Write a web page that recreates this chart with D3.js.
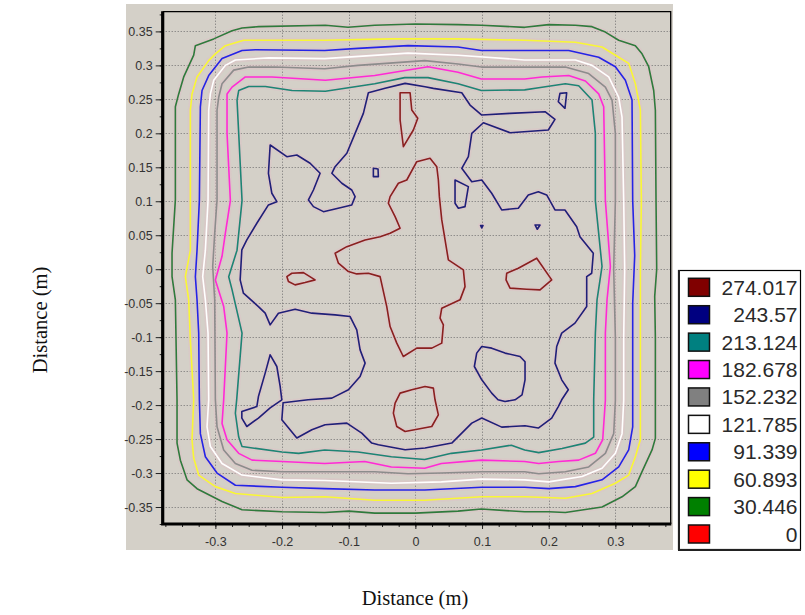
<!DOCTYPE html>
<html>
<head>
<meta charset="utf-8">
<script src="https://cdn.jsdelivr.net/npm/d3@7"></script>
<style>
  body { margin: 0; background: #ffffff; }
  svg { display: block; }
</style>
</head>
<body>
<svg id="chart" width="805" height="615"></svg>
<script>
// ---- Axis ticks -----------------------------------------------------------
const xTicks = [-0.3, -0.2, -0.1, 0, 0.1, 0.2, 0.3];
const xTickLabels = ["-0.3", "-0.2", "-0.1", "0", "0.1", "0.2", "0.3"];
const yTicks = [0.35, 0.3, 0.25, 0.2, 0.15, 0.1, 0.05, 0, -0.05, -0.1, -0.15, -0.2, -0.25, -0.3, -0.35];
const yTickLabels = ["0.35", "0.3", "0.25", "0.2", "0.15", "0.1", "0.05", "0", "-0.05", "-0.1", "-0.15", "-0.2", "-0.25", "-0.3", "-0.35"];
const xDomain = [-0.379, 0.383];
const yDomain = [-0.375, 0.379];

// ---- Contour levels (legend order) ----------------------------------------
const levelValues = [274.017, 243.57, 213.124, 182.678, 152.232, 121.785, 91.339, 60.893, 30.446, 0];
const levelLabels = ["274.017", "243.57", "213.124", "182.678", "152.232", "121.785", "91.339", "60.893", "30.446", "0"];
const levelColors = ["#800000", "#000080", "#008080", "#ff00ff", "#808080", "#ffffff", "#0000ff", "#ffff00", "#008000", "#ff0000"];
// stroke colours used for the lines inside the plot
const lineColors = ["#8a1f1f", "#1f1f78", "#1d8474", "#ff2ad6", "#8c8c8c", "#ffffff", "#2424e6", "#f8f834", "#2f7a3c", "#ff0000"];

// ---- Contour lines, [x (m), y (m)] ---------------------------------------
const contour30446 = [[
  [-0.26,0.355],[-0.235,0.357],[-0.135,0.359],[-0.101,0.356],[-0.061,0.359],[0,0.361],[0.064,0.36],[0.099,0.359],
  [0.164,0.356],[0.2,0.36],[0.24,0.359],[0.265,0.357],[0.285,0.349],[0.305,0.337],[0.33,0.329],[0.34,0.317],
  [0.35,0.298],[0.3575,0.263],[0.36,0.234],[0.361,0.1],[0.362,0.0],[0.359,-0.04],[0.36,-0.1],[0.36,-0.193],
  [0.36,-0.249],[0.355,-0.266],[0.34,-0.298],[0.33,-0.32],[0.31,-0.335],[0.28,-0.35],[0.26,-0.353],[0.225,-0.358],
  [0.2,-0.357],[0.164,-0.357],[0.099,-0.353],[0.064,-0.356],[0,-0.359],[-0.061,-0.359],[-0.1,-0.356],[-0.136,-0.358],
  [-0.2,-0.357],[-0.26,-0.354],[-0.29,-0.342],[-0.3275,-0.323],[-0.3425,-0.31],[-0.3525,-0.281],[-0.3575,-0.256],
  [-0.3575,-0.192],[-0.36,-0.045],[-0.365,-0.011],[-0.365,0.0235],[-0.36,0.102],[-0.36,0.239],[-0.355,0.258],
  [-0.3475,0.283],[-0.3325,0.315],[-0.33,0.329],[-0.3025,0.339],[-0.275,0.351]
]];

const contour60893 = [[
  [-0.2575,0.337],[-0.136,0.337],[-0.036,0.339],[0.064,0.339],[0.164,0.337],[0.24,0.334],[0.28,0.327],[0.305,0.312],
  [0.32,0.303],[0.33,0.273],[0.3375,0.234],[0.339,0.1],[0.3375,0.0],[0.3375,-0.1],[0.3375,-0.193],[0.3375,-0.251],
  [0.33,-0.276],[0.32,-0.303],[0.3,-0.315],[0.265,-0.33],[0.225,-0.337],[0.165,-0.335],[0.099,-0.335],[0.014,-0.34],
  [-0.061,-0.34],[-0.136,-0.335],[-0.2,-0.336],[-0.27,-0.33],[-0.3,-0.32],[-0.325,-0.303],[-0.3325,-0.278],
  [-0.335,-0.251],[-0.3325,-0.192],[-0.3375,-0.104],[-0.34,-0.045],[-0.345,-0.011],[-0.3375,0.028],[-0.3375,0.101],
  [-0.3375,0.234],[-0.335,0.258],[-0.3275,0.283],[-0.31,0.307],[-0.3,0.317],[-0.285,0.329]
]];

const contour91339 = [[
  [-0.26,0.322],[-0.24,0.323],[-0.136,0.322],[-0.086,0.325],[-0.011,0.329],[0.064,0.327],[0.099,0.322],[0.164,0.322],
  [0.23,0.322],[0.275,0.312],[0.3,0.298],[0.315,0.278],[0.325,0.249],[0.326,0.101],[0.329,0.02],[0.326,-0.05],
  [0.326,-0.193],[0.326,-0.232],[0.32,-0.266],[0.305,-0.291],[0.28,-0.31],[0.24,-0.32],[0.2,-0.323],[0.164,-0.321],
  [0.099,-0.321],[0.014,-0.325],[-0.061,-0.325],[-0.136,-0.323],[-0.2,-0.321],[-0.27,-0.318],[-0.2975,-0.3],
  [-0.315,-0.276],[-0.3225,-0.242],[-0.324,-0.192],[-0.325,-0.094],[-0.3275,-0.045],[-0.33,-0.011],[-0.3275,0.028],
  [-0.324,0.101],[-0.3225,0.239],[-0.32,0.263],[-0.31,0.285],[-0.29,0.31]
]];

const contour121785 = [[
  [-0.27,0.308],[-0.22,0.311],[-0.136,0.31],[-0.011,0.318],[0.064,0.315],[0.164,0.308],[0.24,0.308],[0.265,0.3],
  [0.29,0.283],[0.305,0.253],[0.31,0.224],[0.3125,0.101],[0.314,0.0],[0.3125,-0.1],[0.3125,-0.193],[0.31,-0.242],
  [0.3,-0.271],[0.28,-0.293],[0.25,-0.305],[0.2,-0.313],[0.164,-0.31],[0.099,-0.309],[0.039,-0.313],[-0.036,-0.315],
  [-0.136,-0.311],[-0.2,-0.31],[-0.26,-0.303],[-0.29,-0.286],[-0.3075,-0.261],[-0.3125,-0.232],[-0.31,-0.192],
  [-0.311,-0.094],[-0.315,-0.045],[-0.319,-0.011],[-0.315,0.028],[-0.311,0.101],[-0.31,0.234],[-0.3075,0.258],
  [-0.3025,0.278],[-0.285,0.3]
]];

const contour152232 = [[
  [-0.25,0.2975],[-0.21,0.2975],[-0.136,0.295],[-0.086,0.3],[0.014,0.307],[0.064,0.302],[0.099,0.2975],[0.164,0.2975],
  [0.225,0.2975],[0.26,0.288],[0.285,0.268],[0.295,0.249],[0.3,0.2],[0.3,0.101],[0.2975,0.0],[0.3,-0.1],[0.3,-0.193],
  [0.2975,-0.242],[0.285,-0.271],[0.26,-0.291],[0.225,-0.298],[0.185,-0.301],[0.164,-0.298],[0.099,-0.298],
  [0.039,-0.3],[-0.011,-0.301],[-0.061,-0.298],[-0.136,-0.298],[-0.2,-0.298],[-0.245,-0.296],[-0.27,-0.286],
  [-0.2875,-0.266],[-0.2975,-0.232],[-0.3,-0.192],[-0.301,-0.045],[-0.304,0.004],[-0.301,0.053],[-0.2975,0.102],
  [-0.2975,0.234],[-0.295,0.253],[-0.29,0.273],[-0.2725,0.293]
]];

const contour182678 = [[
  [-0.255,0.283],[-0.215,0.283],[-0.135,0.278],[-0.061,0.285],[0.019,0.298],[0.064,0.29],[0.099,0.28],[0.164,0.28],
  [0.19,0.283],[0.23,0.285],[0.255,0.277],[0.275,0.258],[0.2825,0.239],[0.285,0.101],[0.2925,0.004],[0.2875,-0.045],
  [0.285,-0.094],[0.285,-0.193],[0.281,-0.251],[0.27,-0.271],[0.245,-0.281],[0.215,-0.283],[0.185,-0.286],
  [0.164,-0.283],[0.099,-0.281],[0.039,-0.286],[0.014,-0.293],[-0.036,-0.291],[-0.076,-0.283],[-0.136,-0.286],
  [-0.2,-0.283],[-0.245,-0.281],[-0.265,-0.271],[-0.2825,-0.251],[-0.29,-0.227],[-0.2875,-0.192],[-0.2825,-0.094],
  [-0.2875,-0.055],[-0.3,-0.016],[-0.29,0.019],[-0.285,0.053],[-0.2775,0.101],[-0.2825,0.2],[-0.2825,0.258],
  [-0.275,0.268]
]];

const contour213124 = [[
  [-0.25,0.269],[-0.225,0.269],[-0.185,0.263],[-0.135,0.262],[-0.061,0.273],[-0.016,0.282],[0.019,0.282],[0.064,0.273],
  [0.099,0.263],[0.164,0.264],[0.185,0.267],[0.225,0.273],[0.245,0.27],[0.265,0.249],[0.27,0.2],[0.27,0.101],
  [0.28,0.004],[0.2725,-0.045],[0.27,-0.094],[0.2675,-0.192],[0.2675,-0.247],[0.255,-0.256],[0.22,-0.264],
  [0.185,-0.27],[0.164,-0.266],[0.144,-0.259],[0.099,-0.266],[0.054,-0.271],[0.014,-0.28],[-0.036,-0.276],
  [-0.086,-0.269],[-0.136,-0.266],[-0.175,-0.271],[-0.2,-0.269],[-0.26,-0.261],[-0.265,-0.247],[-0.27,-0.212],
  [-0.268,-0.192],[-0.26,-0.094],[-0.275,-0.03],[-0.28,-0.011],[-0.2675,0.028],[-0.26,0.101],[-0.265,0.2],
  [-0.2675,0.249],[-0.265,0.263]
]];

const contour243570 = [
  [
    [-0.0705,0.2597],[-0.0454,0.2662],[-0.0154,0.2735],[0.0145,0.2685],[0.027,0.2662],[0.0696,0.2597],[0.082,0.2416],
    [0.0996,0.2269],[0.142,0.2294],[0.1945,0.2318],[0.2094,0.2206],[0.1994,0.2049],[0.142,0.2009],[0.102,0.2156],
    [0.0846,0.2],[0.0795,0.1656],[0.0696,0.1485],[0.0846,0.1288],[0.0996,0.1313],[0.1145,0.1118],[0.1295,0.0872],
    [0.1544,0.0897],[0.1694,0.1093],[0.1844,0.1141],[0.197,0.1093],[0.2094,0.0872],[0.2244,0.0872],[0.242,0.0626],
    [0.2469,0.0479],[0.2669,0.0235],[0.2645,-0.0059],[0.257,-0.0109],[0.257,-0.055],[0.2394,-0.0794],[0.2195,-0.0941],
    [0.212,-0.1138],[0.2094,-0.1382],[0.2195,-0.1628],[0.2294,-0.1775],[0.2195,-0.1922],[0.2144,-0.2021],
    [0.2045,-0.2191],[0.1844,-0.2338],[0.1645,-0.2304],[0.1445,-0.2315],[0.1295,-0.2324],[0.0996,-0.2191],
    [0.0846,-0.2265],[0.0546,-0.2559],[0.0145,-0.2632],[-0.0154,-0.2657],[-0.0555,-0.2584],[-0.0654,-0.2559],
    [-0.0804,-0.2412],[-0.1028,-0.2265],[-0.1354,-0.229],[-0.1553,-0.2363],[-0.1778,-0.2485],[-0.2003,-0.2216],
    [-0.1984,-0.1966],[-0.1609,-0.1922],[-0.1253,-0.1897],[-0.1004,-0.1775],[-0.0829,-0.1579],[-0.0754,-0.1382],
    [-0.0829,-0.1187],[-0.0879,-0.0893],[-0.0979,-0.0697],[-0.1204,-0.0672],[-0.1553,-0.0647],[-0.1804,-0.0588],
    [-0.2054,-0.0647],[-0.2178,-0.0819],[-0.2253,-0.0647],[-0.2354,-0.055],[-0.2579,-0.0353],[-0.2628,-0.0157],
    [-0.2603,0.0284],[-0.2528,0.0431],[-0.2378,0.0676],[-0.2204,0.0946],[-0.2078,0.0994],[-0.2153,0.1118],
    [-0.2204,0.1412],[-0.2178,0.1828],[-0.1928,0.1656],[-0.1778,0.1681],[-0.1579,0.1559],[-0.1429,0.1412],
    [-0.1529,0.1166],[-0.1604,0.1019],[-0.1529,0.0921],[-0.1379,0.0847],[-0.0954,0.0946],[-0.0904,0.1068],
    [-0.0954,0.1166],[-0.1103,0.1265],[-0.1253,0.1412],[-0.1204,0.1509],[-0.1028,0.1706],[-0.0904,0.2],[-0.078,0.2294]
  ],
  [
    [-0.2003,-0.1922],[-0.2028,-0.1726],[-0.2078,-0.1432],[-0.2178,-0.126],[-0.2253,-0.1529],[-0.2354,-0.1874],
    [-0.2378,-0.2021],[-0.2603,-0.2094],[-0.2603,-0.2191],[-0.2528,-0.2315],[-0.2354,-0.2191],[-0.2178,-0.2040]
  ],
  [[0.0996,-0.1138],[0.1145,-0.1162],[0.1345,-0.1235],[0.157,-0.1285],[0.1645,-0.1363],[0.1645,-0.1628],[0.16,-0.1849],
   [0.1495,-0.1922],[0.1345,-0.1947],[0.124,-0.1922],[0.1145,-0.1824],[0.0996,-0.1628],[0.0885,-0.1432],[0.092,-0.1235]],
  [[0.0595,0.1313],[0.0795,0.1215],[0.0745,0.0921],[0.0645,0.0897],[0.0595,0.0971]],
  [[0.2169,0.2588],[0.227,0.2597],[0.2244,0.2368],[0.2144,0.2465]],
  [[-0.063,0.1485],[-0.056,0.1475],[-0.0555,0.1362],[-0.063,0.1362]],
  [[0.1795,0.0651],[0.187,0.0651],[0.1829,0.0588]],
  [[0.0978,0.0644],[0.1015,0.0644],[0.0996,0.0607]]
];

const contour274017 = [
  [[-0.0229,0.2597],[-0.0079,0.2597],[-0.0054,0.2343],[0.0036,0.2221],[-0.003,0.2049],[-0.018,0.1803],[-0.0229,0.2196]],
  [
    [0.0021,0.1582],[0.022,0.1632],[0.0321,0.1509],[0.0345,0.1313],[0.036,0.1068],[0.0396,0.0725],[0.0495,0.0137],
    [0.072,-0.001],[0.0745,-0.0256],[0.067,-0.0451],[0.0396,-0.0574],[0.037,-0.0721],[0.042,-0.0819],[0.0396,-0.1088],
    [0.0246,-0.1162],[0.0021,-0.1162],[-0.0181,-0.1285],[-0.0279,-0.1088],[-0.0379,-0.0844],[-0.0429,-0.055],
    [-0.0529,-0.0109],[-0.0705,-0.0059],[-0.0879,-0.0069],[-0.1004,-0.0035],[-0.1154,0.0088],[-0.1204,0.0235],
    [-0.1028,0.0332],[-0.0754,0.0431],[-0.0529,0.0479],[-0.0379,0.0529],[-0.0229,0.0603],[-0.0304,0.0774],
    [-0.0405,0.0971],[-0.0379,0.1068],[-0.0255,0.1265],[-0.0129,0.1313]
  ],
  [[-0.1928,-0.0109],[-0.1853,-0.0059],[-0.1679,-0.005],[-0.1504,-0.0157],[-0.1654,-0.0197],[-0.1804,-0.0231],[-0.1904,-0.0182]],
  [[0.137,-0.0059],[0.1544,0.0015],[0.182,0.0162],[0.2045,-0.0157],[0.187,-0.0304],[0.167,-0.0294],[0.142,-0.0279],[0.136,-0.0157]],
  [[-0.0229,-0.1824],[-0.0054,-0.1775],[0.0145,-0.1726],[0.027,-0.175],[0.0295,-0.1922],[0.0345,-0.2143],[0.0246,-0.2315],
   [-0.0154,-0.2388],[-0.0279,-0.2315],[-0.033,-0.2118],[-0.0304,-0.1971]]
];

// Outermost first so inner lines sit on top
const contourSets = [
  { level: 30.446,  rings: contour30446 },
  { level: 60.893,  rings: contour60893 },
  { level: 91.339,  rings: contour91339 },
  { level: 121.785, rings: contour121785 },
  { level: 152.232, rings: contour152232 },
  { level: 182.678, rings: contour182678 },
  { level: 213.124, rings: contour213124 },
  { level: 243.57,  rings: contour243570 },
  { level: 274.017, rings: contour274017 }
];

// ---- Drawing ----------------------------------------------------------------
const svg = d3.select("#chart");
const plot = { left: 162.7, right: 670.7, top: 11.7, bottom: 524 };

const x = d3.scaleLinear().domain(xDomain).range([plot.left, plot.right]);
const y = d3.scaleLinear().domain(yDomain).range([plot.bottom, plot.top]);
const colorOf = d3.scaleOrdinal().domain(levelValues).range(levelColors);
const strokeOf = d3.scaleOrdinal().domain(levelValues).range(lineColors);

// panel background
svg.append("rect")
  .attr("x", 126).attr("y", 4).attr("width", 547).attr("height", 546)
  .attr("fill", "#d4d0c8");

svg.append("clipPath").attr("id", "plotClip")
  .append("rect")
  .attr("x", plot.left).attr("y", plot.top)
  .attr("width", plot.right - plot.left).attr("height", plot.bottom - plot.top);

// dotted grid
const grid = svg.append("g").attr("stroke", "#6f6f6f").attr("stroke-width", 1)
  .attr("stroke-dasharray", "1,2");
grid.selectAll("line.vx").data(xTicks).join("line")
  .attr("x1", d => Math.round(x(d)) + 0.5).attr("x2", d => Math.round(x(d)) + 0.5)
  .attr("y1", plot.top).attr("y2", plot.bottom);
grid.selectAll("line.hy").data(yTicks).join("line")
  .attr("y1", d => Math.round(y(d)) + 0.5).attr("y2", d => Math.round(y(d)) + 0.5)
  .attr("x1", plot.left).attr("x2", plot.right);

// contour lines
const line = d3.line()
  .x(d => x(d[0])).y(d => y(d[1]))
  .curve(d3.curveLinearClosed);

const cg = svg.append("g").attr("clip-path", "url(#plotClip)").attr("fill", "none")
  .attr("stroke-linejoin", "round");

contourSets.forEach(set => {
  cg.selectAll(null).data(set.rings).join("path")
    .attr("d", line)
    .attr("stroke", "#dcc3c6")
    .attr("stroke-opacity", 0.55)
    .attr("stroke-width", 5);
});
contourSets.forEach(set => {
  cg.selectAll(null).data(set.rings).join("path")
    .attr("d", line)
    .attr("stroke", strokeOf(set.level))
    .attr("stroke-width", 1.6);
});

// frame: thin top/right, heavy left/bottom
svg.append("path")
  .attr("d", `M${plot.left},${plot.top}H${plot.right}V${plot.bottom}`)
  .attr("fill", "none").attr("stroke", "#000").attr("stroke-width", 1.3);

// axes
const axisFont = "'Liberation Sans', Arial, sans-serif";
const xAxis = svg.append("g")
  .attr("transform", `translate(0,${plot.bottom})`)
  .call(d3.axisBottom(x).tickValues(xTicks).tickSize(5).tickPadding(8)
        .tickFormat((d, i) => xTickLabels[i]));
const xMinor = svg.append("g")
  .attr("transform", `translate(0,${plot.bottom})`)
  .call(d3.axisBottom(x).tickValues(d3.range(-0.375, 0.38, 0.025)).tickSize(3).tickFormat(""));

const yAxis = svg.append("g")
  .attr("transform", `translate(${plot.left},0)`)
  .call(d3.axisLeft(y).tickValues(yTicks).tickSize(7).tickPadding(3)
        .tickFormat((d, i) => yTickLabels[i]));
const yMinor = svg.append("g")
  .attr("transform", `translate(${plot.left},0)`)
  .call(d3.axisLeft(y).tickValues(d3.range(-0.375, 0.376, 0.025)).tickSize(3).tickFormat(""));

[xAxis, xMinor, yAxis, yMinor].forEach(g => {
  g.select(".domain").remove();
  g.selectAll(".tick line").attr("stroke", "#222");
  g.selectAll(".tick text").attr("fill", "#333")
    .style("font-family", axisFont).style("font-size", "12.5px");
});

svg.append("path")
  .attr("d", `M${plot.left},${plot.top - 0.5}V${plot.bottom}H${plot.right + 0.6}`)
  .attr("fill", "none").attr("stroke", "#000").attr("stroke-width", 3.2);

// axis titles
const titleFont = "'Liberation Serif', 'Times New Roman', serif";
svg.append("text")
  .attr("x", 415).attr("y", 605)
  .attr("text-anchor", "middle")
  .style("font-family", titleFont).style("font-size", "20.5px").attr("fill", "#111")
  .text("Distance (m)");
svg.append("text")
  .attr("transform", "translate(47,320) rotate(-90)")
  .attr("text-anchor", "middle")
  .style("font-family", titleFont).style("font-size", "20.5px").attr("fill", "#111")
  .text("Distance (m)");

// legend
const legend = svg.append("g");
legend.append("rect")
  .attr("x", 678.5).attr("y", 270.5).attr("width", 122).attr("height", 279)
  .attr("fill", "#ffffff").attr("stroke", "#000").attr("stroke-width", 1.2);
legend.append("path")
  .attr("d", "M679,270V550H801")
  .attr("fill", "none").attr("stroke", "#222").attr("stroke-width", 2);

const rowY = d3.scalePoint().domain(levelLabels).range([287.3, 534]);
const rows = legend.selectAll("g.row").data(levelValues).join("g")
  .attr("transform", (d, i) => `translate(0,${rowY(levelLabels[i])})`);
rows.append("rect")
  .attr("x", 688.5).attr("y", -9).attr("width", 21).attr("height", 18)
  .attr("fill", d => colorOf(d)).attr("stroke", "#111").attr("stroke-width", 1.5);
rows.append("text")
  .attr("x", 797.5).attr("y", 7.5)
  .attr("text-anchor", "end")
  .style("font-family", axisFont).style("font-size", "21px").attr("fill", "#2a2a2a")
  .text((d, i) => levelLabels[i]);
</script>
</body>
</html>
